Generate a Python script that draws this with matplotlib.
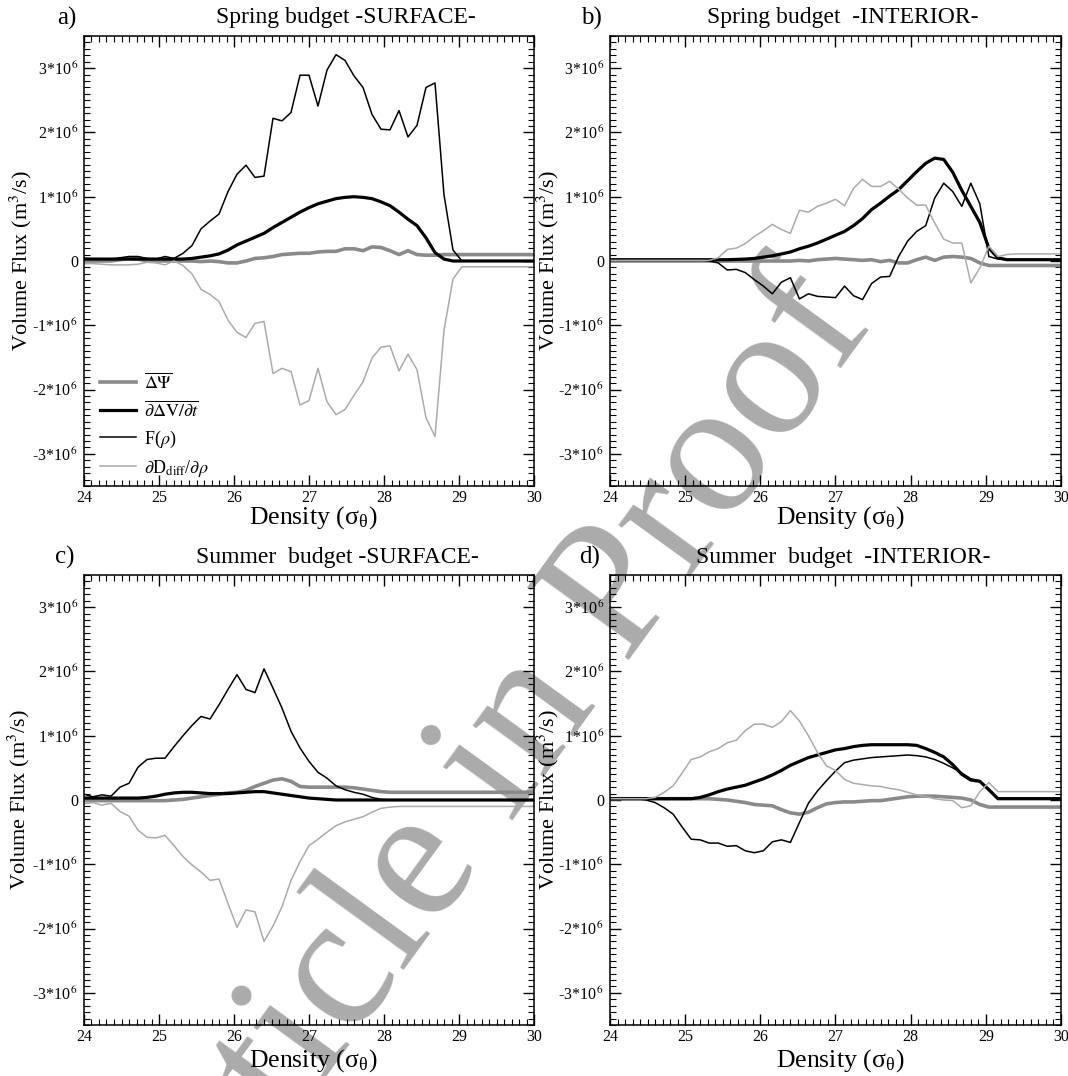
import numpy as np
import matplotlib
matplotlib.use("Agg")
import matplotlib.pyplot as plt
from matplotlib.ticker import MultipleLocator, FuncFormatter

plt.rcParams['font.family'] = ['Liberation Serif', 'DejaVu Serif']
plt.rcParams['mathtext.fontset'] = 'stix'

# density bins (sigma_theta), 0.12 apart
density = np.linspace(24.0, 30.0, 51)

# volume fluxes in units of 10^6 m3/s
# --- a) spring, surface
psi_a = [0.0, 0.0, 0.0, 0.0, 0.02, 0.04, 0.03, 0.0, 0.0, 0.0, 0.0, 0.0, 0.0, -0.01, 0.0, -0.01, -0.03,
         -0.03, 0.0, 0.04, 0.05, 0.07, 0.10, 0.11, 0.12, 0.12, 0.14, 0.15, 0.15, 0.19, 0.19, 0.16, 0.22,
         0.21, 0.16, 0.10, 0.16, 0.10, 0.09, 0.09, 0.10, 0.10, 0.10, 0.10, 0.10, 0.10, 0.10, 0.10, 0.10,
         0.10, 0.10]
dvdt_a = [0.03, 0.03, 0.03, 0.03, 0.03, 0.03, 0.03, 0.03, 0.03, 0.03, 0.03, 0.03, 0.04, 0.06, 0.08,
          0.11, 0.17, 0.25, 0.31, 0.37, 0.43, 0.52, 0.60, 0.68, 0.76, 0.83, 0.89, 0.93, 0.97, 0.99, 1.00,
          0.99, 0.97, 0.92, 0.86, 0.76, 0.65, 0.55, 0.36, 0.13, 0.03, 0.0, 0.0, 0.0, 0.0, 0.0, 0.0, 0.0,
          0.0, 0.0, 0.0]
f_a = [0.04, 0.035, 0.03, 0.03, 0.05, 0.07, 0.07, 0.04, 0.03, 0.07, 0.04, 0.12, 0.24, 0.50, 0.62, 0.73,
       1.08, 1.35, 1.49, 1.30, 1.32, 2.22, 2.18, 2.31, 2.89, 2.89, 2.41, 2.97, 3.21, 3.12, 2.88, 2.70,
       2.28, 2.05, 2.04, 2.34, 1.93, 2.11, 2.70, 2.77, 1.03, 0.17, 0.0, 0.0, 0.0, 0.0, 0.0, 0.0, 0.0,
       0.0, 0.0]
ddiff_a = [-0.04, -0.04, -0.05, -0.06, -0.06, -0.06, -0.05, -0.02, -0.03, -0.06, 0.0, -0.07, -0.20,
           -0.44, -0.52, -0.63, -0.92, -1.11, -1.19, -0.97, -0.94, -1.75, -1.67, -1.72, -2.24, -2.17,
           -1.67, -2.19, -2.39, -2.31, -2.09, -1.88, -1.51, -1.34, -1.32, -1.71, -1.45, -1.69, -2.44,
           -2.73, -1.08, -0.28, -0.09, -0.09, -0.09, -0.09, -0.09, -0.09, -0.09, -0.09, -0.09]

# --- b) spring, interior
psi_b = [0.0, 0.0, 0.0, 0.0, 0.0, 0.0, 0.0, 0.0, 0.0, 0.0, 0.0, 0.0, 0.0, 0.0, 0.0, 0.0, 0.0, 0.0, 0.0,
         0.0, 0.0, 0.01, 0.0, 0.02, 0.03, 0.04, 0.03, 0.02, 0.01, 0.02, -0.01, 0.01, -0.03, -0.03, 0.02,
         0.06, 0.01, 0.06, 0.07, 0.06, 0.04, -0.03, -0.07, -0.07, -0.07, -0.07, -0.07, -0.07, -0.07,
         -0.07, -0.07]
dvdt_b = [0.02, 0.02, 0.02, 0.02, 0.02, 0.02, 0.02, 0.02, 0.02, 0.02, 0.02, 0.02, 0.02, 0.02, 0.025,
          0.03, 0.04, 0.06, 0.08, 0.11, 0.14, 0.19, 0.23, 0.28, 0.34, 0.40, 0.46, 0.55, 0.66, 0.80, 0.90,
          1.01, 1.11, 1.25, 1.39, 1.52, 1.60, 1.58, 1.38, 1.10, 0.85, 0.60, 0.20, 0.05, 0.02, 0.02, 0.02,
          0.02, 0.02, 0.02, 0.02]
f_b = [0.02, 0.02, 0.02, 0.02, 0.02, 0.02, 0.02, 0.02, 0.02, 0.02, 0.02, 0.0, -0.03, -0.14, -0.13,
       -0.18, -0.29, -0.39, -0.51, -0.33, -0.26, -0.59, -0.51, -0.55, -0.56, -0.57, -0.39, -0.54, -0.60,
       -0.35, -0.25, -0.24, 0.07, 0.31, 0.46, 0.55, 0.98, 1.21, 1.08, 0.85, 1.21, 0.89, 0.07, 0.03, 0.02,
       0.02, 0.02, 0.02, 0.02, 0.02, 0.02]
ddiff_b = [0.01, 0.01, 0.01, 0.01, 0.01, 0.01, 0.01, 0.01, 0.01, 0.01, 0.01, 0.01, 0.05, 0.18, 0.20,
           0.27, 0.38, 0.47, 0.57, 0.49, 0.43, 0.79, 0.76, 0.85, 0.90, 0.96, 0.86, 1.13, 1.27, 1.16,
           1.16, 1.24, 1.12, 0.98, 0.87, 0.87, 0.59, 0.34, 0.28, 0.28, -0.34, -0.11, 0.23, 0.07, 0.10,
           0.11, 0.11, 0.11, 0.11, 0.11, 0.11]

# --- c) summer, surface
psi_c = [-0.01, -0.01, -0.01, -0.01, -0.01, -0.01, -0.01, -0.01, -0.01, -0.01, 0.0, 0.01, 0.03, 0.05,
         0.07, 0.09, 0.11, 0.12, 0.15, 0.21, 0.26, 0.31, 0.33, 0.29, 0.21, 0.20, 0.20, 0.20, 0.20, 0.20,
         0.19, 0.17, 0.15, 0.13, 0.12, 0.12, 0.12, 0.12, 0.12, 0.12, 0.12, 0.12, 0.12, 0.12, 0.12, 0.12,
         0.12, 0.12, 0.12, 0.12, 0.12]
dvdt_c = [0.03, 0.03, 0.03, 0.03, 0.03, 0.03, 0.03, 0.04, 0.06, 0.09, 0.11, 0.12, 0.12, 0.11, 0.10,
          0.10, 0.10, 0.11, 0.12, 0.13, 0.13, 0.11, 0.09, 0.07, 0.05, 0.03, 0.02, 0.01, 0.0, 0.0, 0.0,
          0.0, 0.0, 0.0, 0.0, 0.0, 0.0, 0.0, 0.0, 0.0, 0.0, 0.0, 0.0, 0.0, 0.0, 0.0, 0.0, 0.0, 0.0, 0.0,
          0.0]
f_c = [0.09, 0.05, 0.08, 0.06, 0.20, 0.26, 0.51, 0.63, 0.65, 0.65, 0.83, 1.00, 1.16, 1.30, 1.26, 1.48,
       1.72, 1.95, 1.72, 1.67, 2.04, 1.74, 1.43, 1.07, 0.81, 0.60, 0.43, 0.34, 0.22, 0.16, 0.12, 0.09,
       0.04, 0.01, 0.0, 0.0, 0.0, 0.0, 0.0, 0.0, 0.0, 0.0, 0.0, 0.0, 0.0, 0.0, 0.0, 0.0, 0.0, 0.0, 0.0]
ddiff_c = [-0.06, -0.04, -0.08, -0.05, -0.18, -0.25, -0.47, -0.58, -0.59, -0.55, -0.71, -0.88, -1.01,
           -1.12, -1.25, -1.23, -1.61, -1.98, -1.71, -1.74, -2.20, -1.96, -1.66, -1.25, -0.96, -0.71,
           -0.61, -0.50, -0.40, -0.34, -0.30, -0.26, -0.19, -0.13, -0.11, -0.10, -0.10, -0.10, -0.10,
           -0.10, -0.10, -0.10, -0.10, -0.10, -0.10, -0.10, -0.10, -0.10, -0.10, -0.10, -0.10]

# --- d) summer, interior
psi_d = [0.02, 0.02, 0.02, 0.02, 0.02, 0.02, 0.02, 0.02, 0.02, 0.02, 0.02, 0.02, 0.01, 0.0, -0.02,
         -0.04, -0.07, -0.08, -0.09, -0.15, -0.20, -0.22, -0.19, -0.12, -0.06, -0.04, -0.03, -0.03,
         -0.02, -0.01, -0.01, 0.01, 0.03, 0.05, 0.06, 0.06, 0.06, 0.05, 0.04, 0.03, 0.0, -0.07, -0.11,
         -0.11, -0.11, -0.11, -0.11, -0.11, -0.11, -0.11, -0.11]
dvdt_d = [0.02, 0.02, 0.02, 0.02, 0.02, 0.02, 0.02, 0.02, 0.02, 0.02, 0.04, 0.08, 0.13, 0.17, 0.20,
          0.23, 0.28, 0.33, 0.39, 0.46, 0.54, 0.60, 0.66, 0.70, 0.74, 0.78, 0.80, 0.83, 0.85, 0.86, 0.86,
          0.86, 0.86, 0.86, 0.85, 0.80, 0.74, 0.67, 0.55, 0.40, 0.31, 0.29, 0.16, 0.02, 0.02, 0.02, 0.02,
          0.02, 0.02, 0.02, 0.02]
f_d = [0.02, 0.02, 0.02, 0.02, 0.0, -0.04, -0.12, -0.22, -0.42, -0.61, -0.62, -0.67, -0.67, -0.72, -0.71,
       -0.79, -0.82, -0.79, -0.65, -0.62, -0.66, -0.35, -0.05, 0.14, 0.30, 0.45, 0.58, 0.62, 0.64, 0.66,
       0.67, 0.68, 0.69, 0.70, 0.69, 0.67, 0.63, 0.57, 0.50, 0.42, 0.33, 0.30, 0.17, 0.03, 0.03, 0.03,
       0.03, 0.03, 0.03, 0.03, 0.03]
ddiff_d = [0.02, 0.02, 0.02, 0.02, 0.02, 0.04, 0.12, 0.22, 0.42, 0.63, 0.67, 0.75, 0.80, 0.89, 0.93,
           1.08, 1.18, 1.18, 1.13, 1.22, 1.39, 1.23, 1.00, 0.74, 0.53, 0.46, 0.32, 0.26, 0.24, 0.22,
           0.21, 0.18, 0.16, 0.12, 0.08, 0.05, 0.02, 0.0, -0.01, -0.12, -0.09, 0.13, 0.27, 0.13, 0.13,
           0.13, 0.13, 0.13, 0.13, 0.13, 0.13]

panel_letters = ['a)', 'b)', 'c)', 'd)']
panel_titles = ['Spring budget -SURFACE-', 'Spring budget  -INTERIOR-',
                'Summer  budget -SURFACE-', 'Summer  budget  -INTERIOR-']
series = [(psi_a, dvdt_a, f_a, ddiff_a), (psi_b, dvdt_b, f_b, ddiff_b),
          (psi_c, dvdt_c, f_c, ddiff_c), (psi_d, dvdt_d, f_d, ddiff_d)]
legend_labels = [r'$\overline{\Delta\Psi}$', r'$\overline{\partial\Delta\mathrm{V}/\partial t}$',
                 r'F($\rho$)', r'$\partial$D$_{\rm diff}$/$\partial\rho$']

W, H = 1068, 1076
fig = plt.figure(figsize=(W / 100, H / 100), dpi=100)
fig.patch.set_facecolor('white')

# axes boxes in pixels: left, top, right, bottom
boxes = [(84, 36, 534, 486), (610, 36, 1061, 486),
         (84, 575, 534, 1025), (610, 575, 1061, 1025)]
title_x = [0.582, 0.517, 0.562, 0.517]
letter_x = [-0.038, -0.042, -0.042, -0.046]
ylab_x = [-0.14, -0.138, -0.145, -0.138]
xlab_y = [-0.071, -0.071, -0.078, -0.078]


def flux_fmt(v, pos):
    n = int(round(v))
    if n == 0:
        return '0'
    return '%d*10$^{\\,6}$' % n


for i, (l, t, r, b) in enumerate(boxes):
    ax = fig.add_axes([l / W, 1 - b / H, (r - l) / W, (b - t) / H])
    ax.set_facecolor('none')
    psi, dvdt, fr, dd = series[i]
    h1, = ax.plot(density, psi, color='#8a8a8a', lw=2.6)
    h2, = ax.plot(density, dvdt, color='black', lw=2.3)
    h3, = ax.plot(density, fr, color='black', lw=1.1)
    h4, = ax.plot(density, dd, color='#ababab', lw=1.1)

    ax.set_xlim(24, 30)
    ax.set_ylim(-3.5, 3.5)
    ax.xaxis.set_major_locator(MultipleLocator(1))
    ax.xaxis.set_minor_locator(MultipleLocator(0.1))
    ax.yaxis.set_major_locator(MultipleLocator(1))
    ax.yaxis.set_minor_locator(MultipleLocator(0.1))
    ax.yaxis.set_major_formatter(FuncFormatter(flux_fmt))
    ax.tick_params(which='both', direction='in', top=True, right=True, labelsize=11.5)
    ax.tick_params(which='major', length=8, width=1)
    ax.tick_params(which='minor', length=4, width=0.8)
    ax.tick_params(axis='x', pad=3)
    ax.tick_params(axis='y', pad=4)
    for s in ax.spines.values():
        s.set_linewidth(1.1)

    ax.set_xlabel(r'Density (σ$_\mathregular{θ}$)', fontsize=18.5, va='center')
    ax.xaxis.set_label_coords(0.51, xlab_y[i])
    ax.set_ylabel(r'Volume Flux (m$^3$/s)', fontsize=16, va='center')
    ax.yaxis.set_label_coords(ylab_x[i], 0.5)

    ax.text(title_x[i], 1.04, panel_titles[i], transform=ax.transAxes,
            ha='center', va='center', fontsize=17)
    ax.text(letter_x[i], 1.04, panel_letters[i], transform=ax.transAxes,
            ha='center', va='center', fontsize=18)

    if i == 0:
        ax.legend([h1, h2, h3, h4], legend_labels, loc='lower left',
                  bbox_to_anchor=(0.0, -0.02), frameon=False, fontsize=13,
                  handlelength=2.0, handletextpad=0.4, labelspacing=0.45)

# proof watermark
fig.text(486 / W, 1 - 779 / H, 'Article in Proof', rotation=54, rotation_mode='anchor',
         ha='center', va='center', fontsize=137, color='#ababab', zorder=-1)

fig.savefig('out.png', dpi=100, facecolor='white')
